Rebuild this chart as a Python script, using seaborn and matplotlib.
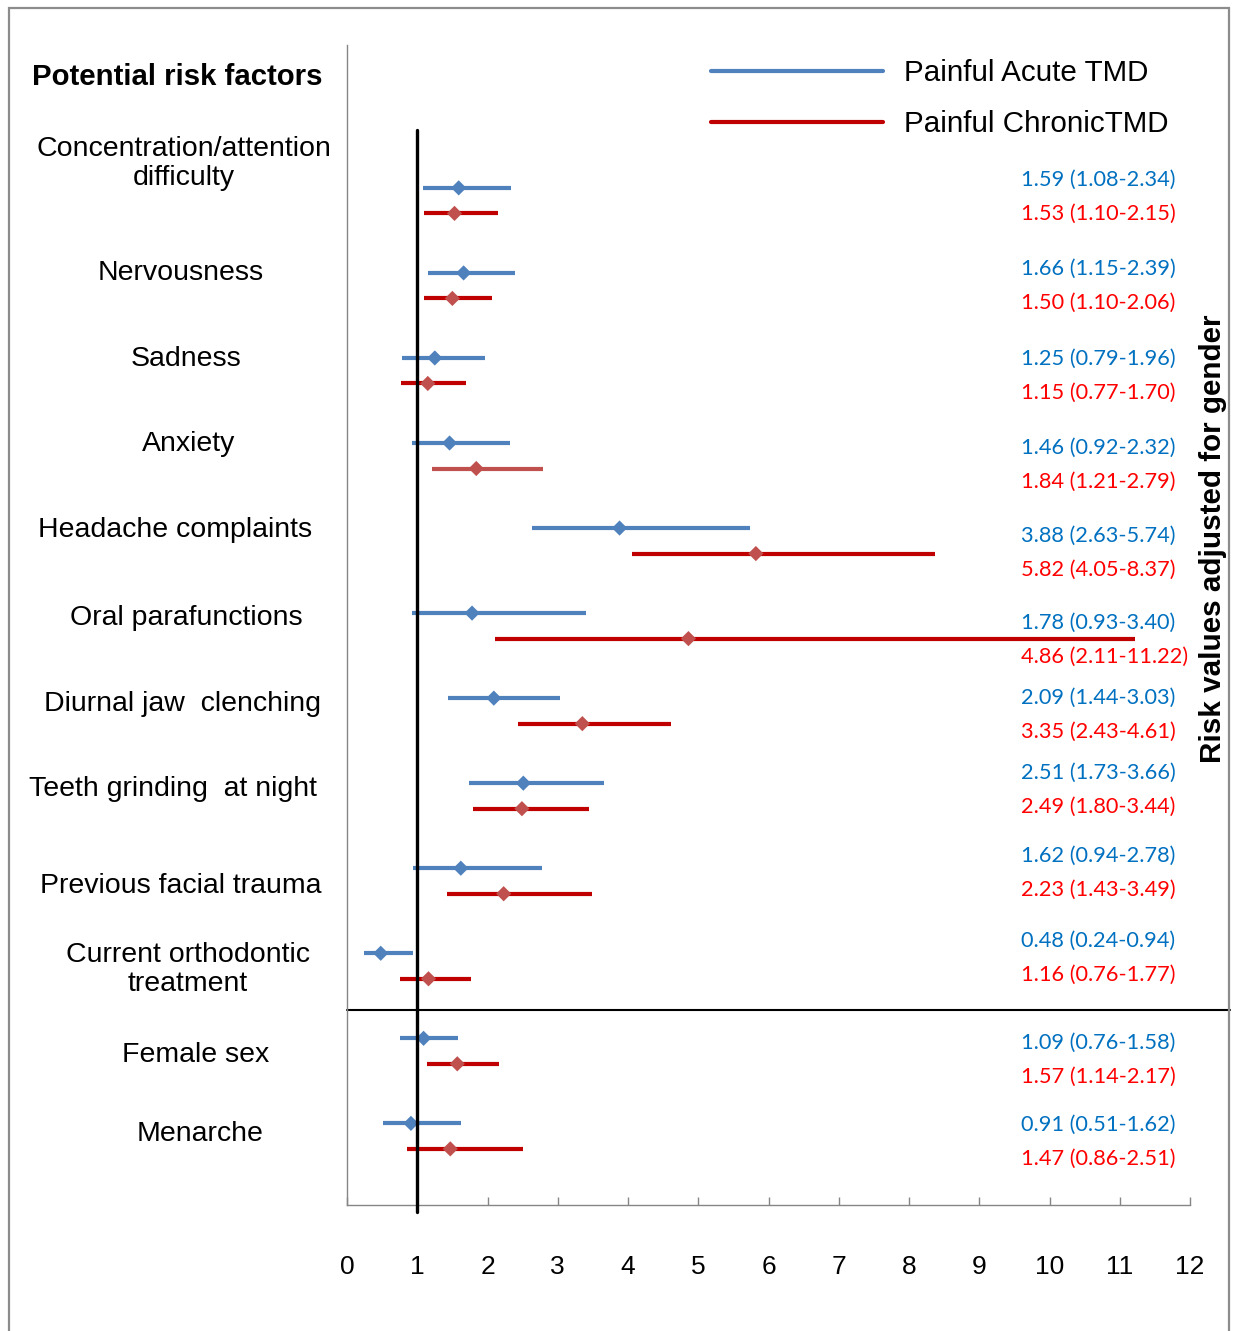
import numpy as np
import pandas as pd
import matplotlib
matplotlib.use("Agg")
import matplotlib.pyplot as plt
import matplotlib.transforms as mtransforms
from matplotlib.lines import Line2D
from matplotlib.patches import Rectangle
import seaborn as sns

# ---- data -------------------------------------------------------------
factors = [
    "Concentration/attention\ndifficulty",
    "Nervousness",
    "Sadness",
    "Anxiety",
    "Headache complaints",
    "Oral parafunctions",
    "Diurnal jaw  clenching",
    "Teeth grinding  at night",
    "Previous facial trauma",
    "Current orthodontic\ntreatment",
    "Female sex",
    "Menarche",
]

acute_rr = [1.59, 1.66, 1.25, 1.46, 3.88, 1.78, 2.09, 2.51, 1.62, 0.48, 1.09, 0.91]
acute_lo = [1.08, 1.15, 0.79, 0.92, 2.63, 0.93, 1.44, 1.73, 0.94, 0.24, 0.76, 0.51]
acute_hi = [2.34, 2.39, 1.96, 2.32, 5.74, 3.40, 3.03, 3.66, 2.78, 0.94, 1.58, 1.62]

chronic_rr = [1.53, 1.50, 1.15, 1.84, 5.82, 4.86, 3.35, 2.49, 2.23, 1.16, 1.57, 1.47]
chronic_lo = [1.10, 1.10, 0.77, 1.21, 4.05, 2.11, 2.43, 1.80, 1.43, 0.76, 1.14, 0.86]
chronic_hi = [2.15, 2.06, 1.70, 2.79, 8.37, 11.22, 4.61, 3.44, 3.49, 1.77, 2.17, 2.51]

groups = ["Painful Acute TMD", "Painful ChronicTMD"]
x_ticks = list(range(0, 13))

# ---- styling ----------------------------------------------------------
sns.set_style("white")
plt.rcParams["font.family"] = ["Liberation Sans", "DejaVu Sans"]
plt.rcParams["text.color"] = "black"
plt.rcParams["xtick.color"] = "black"
plt.rcParams["axes.labelcolor"] = "black"

line_colors = {groups[0]: "#4F81BD", groups[1]: "#C00000"}
marker_colors = {groups[0]: "#4F81BD", groups[1]: "#C0504D"}
text_colors = {groups[0]: "#0070C0", groups[1]: "#FF0000"}
pair_gap = 0.30          # vertical offset of the chronic row below the acute row
text_gap = 0.40          # spacing between the two value annotations
num_font = ["Lato", "DejaVu Sans"]

# small layout nudges for the row labels and the annotation pairs
label_nudge = [-0.29, 0.0, 0.01, 0.01, 0.02, 0.06, 0.07, 0.07, 0.21, 0.19, 0.20, 0.13]
label_x_px = [184, 181, 186, 189, 175, 186, 182, 173, 181, 188, 196, 200]
text_nudge = [-0.10, -0.05, 0.01, 0.06, 0.09, 0.12, 0.0, -0.12, -0.15, -0.15, 0.05, 0.02]

rows = np.arange(len(factors))
df = pd.concat([
    pd.DataFrame({"factor": factors, "row": rows, "group": groups[0],
                  "rr": acute_rr, "lo": acute_lo, "hi": acute_hi, "y": rows + 0.0}),
    pd.DataFrame({"factor": factors, "row": rows, "group": groups[1],
                  "rr": chronic_rr, "lo": chronic_lo, "hi": chronic_hi, "y": rows + pair_gap}),
], ignore_index=True)

W, H = 1236, 1331
fig = plt.figure(figsize=(W / 100, H / 100), dpi=100)
ax = fig.add_axes([347 / W, 1 - 1205 / H, (1190 - 347) / W, (1205 - 45) / H])

# confidence intervals (the anxiety chronic bar is drawn in a lighter red)
for g, sub in df.groupby("group", sort=False):
    cols = [line_colors[g]] * len(sub)
    if g == groups[1]:
        cols[factors.index("Anxiety")] = "#C0504D"
    ax.hlines(sub["y"], sub["lo"], sub["hi"], colors=cols, lw=3.0, zorder=3)

# point estimates
sns.scatterplot(data=df, x="rr", y="y", hue="group", palette=marker_colors,
                marker="D", s=60, linewidth=0, legend=False, ax=ax, zorder=4)

# reference line at 1
ax.axvline(1, ymin=-0.006, ymax=0.927, color="black", lw=2.4, clip_on=False, zorder=5)
# separator between behavioural factors and sex/menarche
ax.axhline(9.67, xmin=0, xmax=(1230 - 347) / (1190 - 347), color="black", lw=1.5,
           clip_on=False, zorder=2)

ax.set_xlim(0, 12)
ax.set_ylim(11.96, -1.68)
ax.set_xticks(x_ticks)
ax.set_xticklabels([str(t) for t in x_ticks], fontsize=19)
ax.set_yticks([])
ax.set_xlabel("")
ax.set_ylabel("")
ax.tick_params(axis="x", which="major", bottom=True, direction="in", length=6,
               width=1, color="#868686", labelcolor="black", pad=36)
for side in ("top", "right"):
    ax.spines[side].set_visible(False)
for side in ("left", "bottom"):
    ax.spines[side].set_color("#868686")
    ax.spines[side].set_linewidth(1.0)

# row labels on the left
lab_tr = mtransforms.blended_transform_factory(fig.transFigure, ax.transData)
for r, name in enumerate(factors):
    ax.text(label_x_px[r] / W, r + label_nudge[r], name, transform=lab_tr, ha="center",
            va="center", fontsize=20.5, linespacing=1.15)

fig.text(177 / W, 1 - 77 / H, "Potential risk factors", ha="center", va="center",
         fontsize=21.2, fontweight="bold")

# value annotations on the right
for r in rows:
    y0 = r + text_nudge[r]
    a = df[(df["row"] == r) & (df["group"] == groups[0])].iloc[0]
    c = df[(df["row"] == r) & (df["group"] == groups[1])].iloc[0]
    ax.text(1021 / W, y0, f"{a.rr:.2f} ({a.lo:.2f}-{a.hi:.2f})", transform=lab_tr,
            ha="left", va="center", fontsize=15.7, color=text_colors[groups[0]],
            family=num_font)
    ax.text(1021 / W, y0 + text_gap, f"{c.rr:.2f} ({c.lo:.2f}-{c.hi:.2f})",
            transform=lab_tr, ha="left", va="center", fontsize=15.7,
            color=text_colors[groups[1]], family=num_font)

fig.text(1213 / W, 1 - 539 / H, "Risk values adjusted for gender", rotation=90,
         ha="center", va="center", fontsize=21.3, fontweight="bold")

# legend
handles = [Line2D([], [], color=line_colors[g], lw=3) for g in groups]
fig.legend(handles, groups, loc="upper left", bbox_to_anchor=(711 / W, 1 - 59 / H),
           frameon=False, fontsize=21.3, handlelength=5.8, handletextpad=0.72,
           labelspacing=0.78, borderpad=0, borderaxespad=0)

# outer frame
fig.patches.append(Rectangle((9 / W, -0.01), (1229 - 9) / W, 1.01 - 8 / H,
                             transform=fig.transFigure, fill=False,
                             edgecolor="#8C8C8C", lw=1.6, zorder=0))

fig.savefig("out.png", dpi=100)
